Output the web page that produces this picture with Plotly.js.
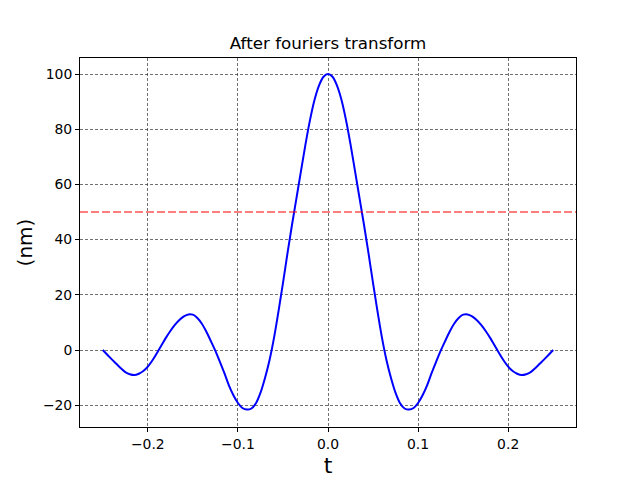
<!DOCTYPE html>
<html>
<head>
<meta charset="utf-8">
<script src="https://cdn.plot.ly/plotly-3.0.1.min.js"></script>
<style>html,body{margin:0;padding:0;background:#fff;}#chart{width:640px;height:480px;}</style>
</head>
<body>
<div id="chart"></div>
<script>
// values read / (positive half; curve is symmetric about t = 0)
const tHalf = [0, 0.005, 0.010, 0.015, 0.020, 0.025, 0.030, 0.035, 0.040, 0.045, 0.050, 0.055, 0.060, 0.065, 0.070, 0.075, 0.080, 0.085, 0.090, 0.095, 0.100, 0.105, 0.110, 0.115, 0.120, 0.125, 0.130, 0.135, 0.140, 0.145, 0.150, 0.155, 0.160, 0.165, 0.170, 0.175, 0.180, 0.185, 0.190, 0.195, 0.200, 0.205, 0.210, 0.215, 0.220, 0.225, 0.230, 0.235, 0.240, 0.245, 0.250];
const yHalf = [100, 99.0, 95.8, 90.6, 83.3, 74.5, 64.8, 55.0, 45.3, 35.0, 24.2, 13.9, 4.3, -3.8, -10.2, -15.5, -19.3, -21.2, -21.6, -21.0, -19.2, -16.4, -12.8, -8.4, -4.3, -0.3, 3.2, 6.6, 9.5, 11.6, 12.8, 12.9, 12.2, 10.9, 9.1, 6.9, 4.4, 1.6, -1.2, -3.8, -6.0, -7.6, -8.6, -9.1, -8.8, -8.0, -6.6, -5.0, -3.4, -1.7, 0];
const threshold = 50;
const xTickVals = [-0.2, -0.1, 0.0, 0.1, 0.2];
const yTickVals = [-20, 0, 20, 40, 60, 80, 100];

const tVals = [], yVals = [];
for (let i = tHalf.length - 1; i > 0; i--) { tVals.push(-tHalf[i]); yVals.push(yHalf[i]); }
for (let i = 0; i < tHalf.length; i++) { tVals.push(tHalf[i]); yVals.push(yHalf[i]); }

const font = 'DejaVu Sans, sans-serif';
const axisCommon = {
  showline: true, mirror: true, linecolor: '#000', linewidth: 1,
  ticks: 'outside', ticklen: 4, tickwidth: 1, tickcolor: '#000',
  showgrid: true, gridcolor: '#333', gridwidth: 0.7, griddash: '3px,2px',
  zeroline: false, tickfont: {family: font, size: 13.9, color: '#000'}
};

const trace = {
  x: tVals, y: yVals, type: 'scatter', mode: 'lines',
  line: {color: '#0000ff', width: 2, shape: 'spline', smoothing: 1},
  hoverinfo: 'skip'
};

const layout = {
  width: 640, height: 480,
  margin: {l: 80, r: 64, t: 57.6, b: 52.8},
  paper_bgcolor: '#fff', plot_bgcolor: '#fff',
  showlegend: false,
  title: {text: 'After fouriers transform', font: {family: font, size: 16.7, color: '#000'},
          x: 0.5, xref: 'paper', y: 1 - 43/480, yref: 'container', yanchor: 'middle'},
  xaxis: Object.assign({}, axisCommon, {
    range: [-0.2753, 0.2753], tickvals: xTickVals, tickformat: '.1f',
    title: {text: 't', font: {family: font, size: 22, color: '#000'}, standoff: 6}
  }),
  yaxis: Object.assign({}, axisCommon, {
    range: [-27.9, 105.8], tickvals: yTickVals,
    title: {text: '(nm)', font: {family: font, size: 20, color: '#000'}, standoff: 4}
  }),
  shapes: [{type: 'line', xref: 'paper', x0: 0, x1: 1, yref: 'y', y0: threshold, y1: threshold,
            line: {color: 'rgba(255,0,0,0.5)', width: 2, dash: '8px,3px'}, layer: 'above'}]
};

Plotly.newPlot('chart', [trace], layout, {displayModeBar: false, staticPlot: true});
</script>
</body>
</html>
